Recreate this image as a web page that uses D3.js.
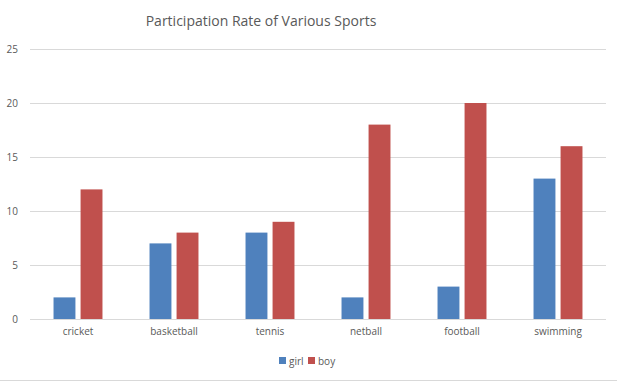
<!DOCTYPE html>
<html><head><meta charset="utf-8">
<script src="https://cdn.jsdelivr.net/npm/d3@7"></script>
<style>body{margin:0;background:#fff}svg{display:block}</style>
</head><body>
<svg id="c" width="617" height="382"></svg>
<script>
const categories = ["cricket","basketball","tennis","netball","football","swimming"];
const girl = [2,7,8,2,3,13];
const boy = [12,8,9,18,20,16];
const seriesNames = ["girl","boy"];
const yTicks = [0,5,10,15,20,25];
const colors = ["#4F81BD","#C0504D"];
const title = "Participation Rate of Various Sports";

(function(){
const svg = d3.select("#c");
const W = 617, H = 382;
const mLeft = 30, mRight = 606, mTop = 49, mBottom = 319;
const font = "'Open Sans', sans-serif";
const txt = "#595959";

svg.append("rect").attr("width",W).attr("height",H).attr("fill","#fff");
svg.append("line").attr("x1",0).attr("x2",W).attr("y1",380.5).attr("y2",380.5).attr("stroke","#d9d9d9");

const x = d3.scaleBand().domain(categories).range([mLeft,mRight]).paddingInner(0).paddingOuter(0);
const y = d3.scaleLinear().domain([0,25]).range([mBottom,mTop]);
const inner = d3.scaleBand().domain(seriesNames).range([0,x.bandwidth()]).paddingInner(0.19).paddingOuter(0.87);

svg.append("text").attr("x",261).attr("y",26).attr("text-anchor","middle")
  .attr("font-family",font).attr("font-size",14).attr("fill",txt).text(title);

const g = svg.append("g");
g.selectAll("line.grid").data(yTicks.filter(d=>d>0)).join("line")
  .attr("x1",mLeft).attr("x2",mRight)
  .attr("y1",d=>Math.round(y(d))+0.5).attr("y2",d=>Math.round(y(d))+0.5)
  .attr("stroke","#d9d9d9");

const yAxis = d3.axisLeft(y).tickValues(yTicks).tickSize(0).tickPadding(0);
const ya = svg.append("g").attr("transform",`translate(${mLeft-12},0)`).call(yAxis);
ya.select(".domain").remove();
ya.selectAll("text").attr("font-family",font).attr("font-size",10).attr("fill",txt).attr("text-anchor","end");

const data = [girl,boy];
data.forEach((vals,si)=>{
  g.selectAll("rect.s"+si).data(vals).join("rect").attr("class","s"+si)
    .attr("x",(d,i)=>x(categories[i])+inner(seriesNames[si]))
    .attr("width",inner.bandwidth())
    .attr("y",d=>y(d)).attr("height",d=>y(0)-y(d))
    .attr("fill",colors[si]);
});

g.append("line").attr("x1",mLeft).attr("x2",mRight).attr("y1",mBottom+0.5).attr("y2",mBottom+0.5).attr("stroke","#d9d9d9");

const xAxis = d3.axisBottom(x).tickSize(0).tickPadding(0);
const xa = svg.append("g").attr("transform",`translate(0,${mBottom+9})`).call(xAxis);
xa.select(".domain").remove();
xa.selectAll("text").attr("font-family",font).attr("font-size",10).attr("fill",txt);

const legend = svg.append("g").attr("transform","translate(279,357)");
const lx = [0,29];
seriesNames.forEach((n,i)=>{
  legend.append("rect").attr("x",lx[i]).attr("y",0).attr("width",7).attr("height",7).attr("fill",colors[i]);
  legend.append("text").attr("x",lx[i]+10).attr("y",8).attr("font-family",font).attr("font-size",10).attr("fill",txt).text(n);
});
})();
</script>
</body></html>
